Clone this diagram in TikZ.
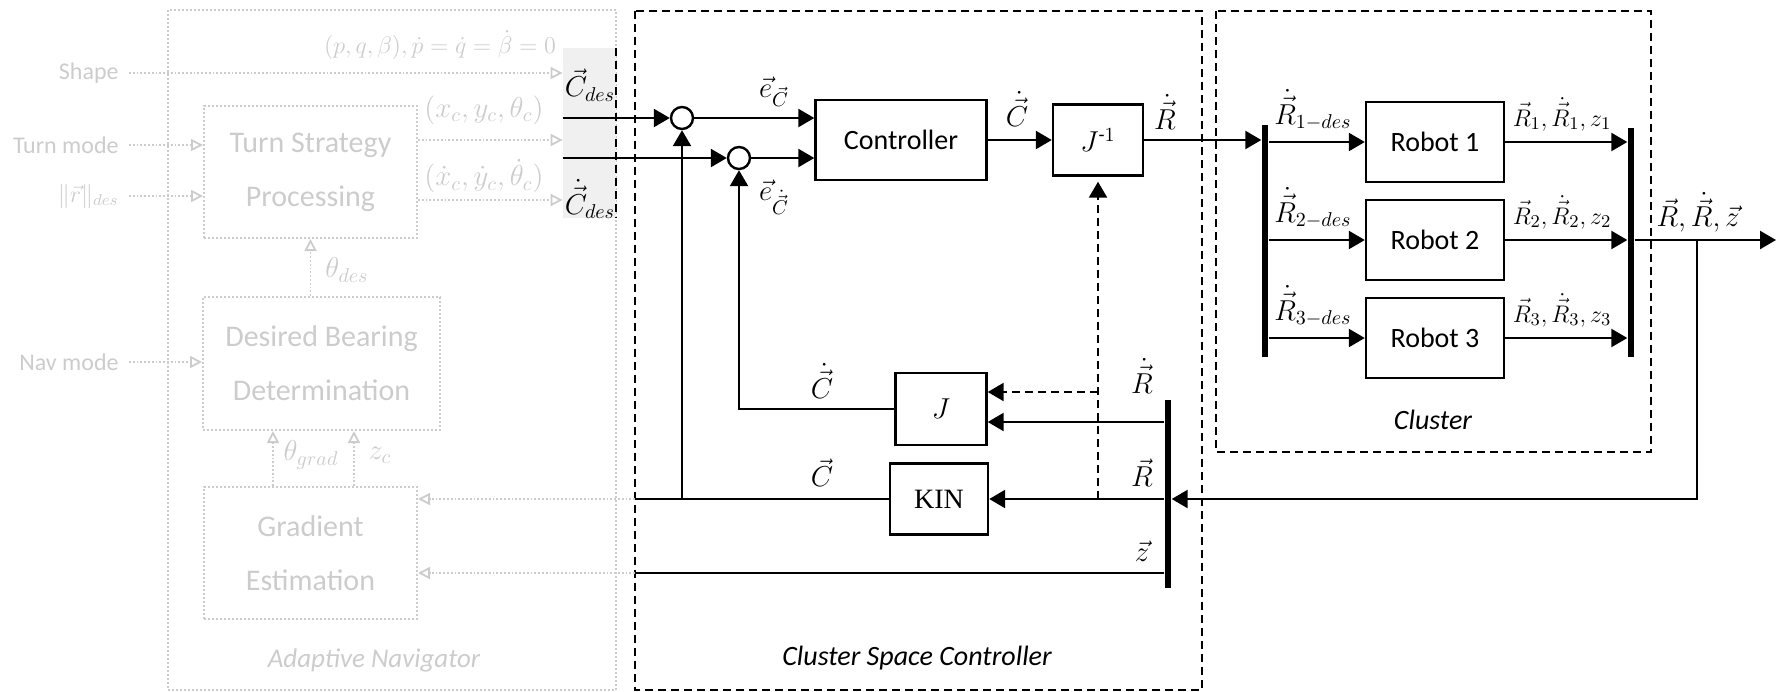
\documentclass[tikz,border=0pt]{standalone}
\usepackage{amsmath,amssymb}
\usepackage{fontspec}
\setmainfont{Carlito}
\newfontfamily\timesfont{Liberation Serif}
\usetikzlibrary{arrows.meta}
\definecolor{fadegray}{gray}{0.8}
\definecolor{desfill}{gray}{0.94}
\newcommand{\lblsize}{\fontsize{14}{16}\selectfont}
\tikzset{
  block/.style 2 args={draw, line width=1.2pt, inner sep=0pt,
    minimum width=#1, minimum height=#2},
  fadeblock/.style 2 args={draw=fadegray, densely dotted, line width=1pt,
    text=fadegray, align=center, font=\fontsize{15}{27}\selectfont,
    minimum width=#1, minimum height=#2},
  sumpt/.style={circle, draw, line width=1.2pt, minimum size=11pt, inner sep=0pt},
  bus/.style={fill=black, minimum width=3.3pt, inner sep=0pt},
  wire/.style={line width=1.2pt},
  conn/.style={wire, -{Triangle[length=8pt,width=9pt]}},  % solid arrow
  dconn/.style={conn, dash pattern=on 4pt off 2.5pt},      % dashed arrow
  groupbox/.style={line width=1pt, dash pattern=on 4pt off 2.5pt},
  fadebox/.style={draw=fadegray, densely dotted, line width=1pt},
  fadetext/.style={text=fadegray},
  fadein/.style={fadetext, anchor=east, inner sep=0pt, font=\fontsize{12}{14}\selectfont},
  fadeconn/.style={fadegray, densely dotted, line width=0.9pt,
    -{Triangle[open,length=6pt,width=6pt]}},
}

\begin{document}
\begin{tikzpicture}[x=0.5pt, y=-0.5pt, font=\lblsize]
    \useasboundingbox (0,0) rectangle (1780,691);

    % Adaptive navigator (faded)
    \draw[fadebox] (168,10) rectangle (616,690);
    \node[fadeblock={106.5pt}{66pt}] (tsp) at (310.5,172) {Turn Strategy\\Processing};
    \node[fadeblock={118.5pt}{66.5pt}] (dbd) at (321.5,363.5) {Desired Bearing\\Determination};
    \node[fadeblock={106.5pt}{66pt}] (grad) at (310.5,553) {Gradient\\Estimation};
    \node[fadetext, font=\itshape\fontsize{13.5}{16}\selectfont] (nav lbl) at (374,660) {Adaptive Navigator};

    % desired cluster state
    \node[fill=desfill, minimum width=26.5pt, minimum height=85pt, inner sep=0pt] (des) at (589.5,133) {};
    \draw[groupbox] (des.north east) -- (des.south east);
    \node (cdes lbl) at (590,85) {$\vec{C}_{des}$};
    \node (cdotdes lbl) at (590,199) {$\dot{\vec{C}}_{des}$};

    % faded inputs and outputs
    \node[fadein] (shape) at (119,73) {Shape};
    \node[fadein] (turn) at (119,145) {Turn mode};
    \node[fadein] (rnorm) at (119,196) {$\|\vec{r}\|_{des}$};
    \node[fadein] (navmode) at (119,362) {Nav mode};
    \draw[fadeconn, shorten <=5pt] (shape.east) -- (shape.east -| des.west);
    \draw[fadeconn, shorten <=5pt] (turn.east) -- (turn.east -| tsp.west);
    \draw[fadeconn, shorten <=5pt] (rnorm.east) -- (rnorm.east -| tsp.west);
    \draw[fadeconn, shorten <=5pt] (navmode.east) -- (navmode.east -| dbd.west);
    \draw[fadeconn] ([yshift=16pt]tsp.east) -- ([yshift=16pt]tsp.east -| des.west);
    \draw[fadeconn] ([yshift=-14pt]tsp.east) -- ([yshift=-14pt]tsp.east -| des.west);
    \draw[fadeconn] (tsp.south |- dbd.north) -- (tsp.south);
    \draw[fadeconn] ([xshift=-18.75pt]grad.north) -- ([xshift=-18.75pt]grad.north |- dbd.south);
    \draw[fadeconn] ([xshift=21.75pt]grad.north) -- ([xshift=21.75pt]grad.north |- dbd.south);
    \node[fadetext, font=\fontsize{13}{15}\selectfont] (pq lbl) at (440,45) {$(p,q,\beta), \dot{p}=\dot{q}=\dot{\beta}=0$};
    \node[fadetext] (xy lbl) at (484,110) {$(x_c,y_c,\theta_c)$};
    \node[fadetext] (xydot lbl) at (484,176) {$(\dot{x}_c,\dot{y}_c,\dot{\theta}_c)$};
    \node[fadetext] (thdes lbl) at (347,270) {$\theta_{des}$};
    \node[fadetext] (thgrad lbl) at (311,455) {$\theta_{grad}$};
    \node[fadetext] (zc lbl) at (380,455) {$z_c$};

    % Cluster space controller
    \draw[groupbox] (635,11) rectangle (1202,690);
    \node[font=\itshape\lblsize] (csc lbl) at (917,658) {Cluster Space Controller};
    \node[sumpt] (sum1) at (682,118) {};
    \node[sumpt] (sum2) at (739,158) {};
    \node[block={85.5pt}{40pt}] (ctrl) at (901,140) {Controller};
    \node[block={45pt}{35.5pt}] (jinv) at (1098,140) {$J^{\text{-}1}$};
    \node[block={45.5pt}{36pt}] (jmat) at (941,409) {$J$};
    \node[block={49pt}{35.5pt}, font=\timesfont\lblsize] (kin) at (939,499) {KIN};
    \node[bus, minimum height=94pt] (fbbus) at (1168,494) {};

    \draw[conn] (des.west |- sum1) -- (sum1.west);
    \draw[conn] (des.west |- sum2) -- (sum2.west);
    \draw[conn] (sum1.east) -- (sum1.east -| ctrl.west);
    \draw[conn] (sum2.east) -- (sum2.east -| ctrl.west);
    \draw[conn] (ctrl.east) -- (jinv.west);
    \node (ec lbl) at (774,92) {$\vec{e}_{\vec{C}}$};
    \node (ecdot lbl) at (774,197) {$\vec{e}_{\dot{\vec{C}}}$};
    \node (cdot lbl) at (1017,109) {$\dot{\vec{C}}$};
    \node (rdot lbl) at (1165,112) {$\dot{\vec{R}}$};

    % feedback paths
    \coordinate (rdot in) at ([yshift=-6.5pt]jmat.east);
    \coordinate (dash in) at ([yshift=8.5pt]jmat.east);
    \coordinate (ctap) at (635,499);
    \coordinate (ztap) at (635,573);
    \coordinate (dtap) at (jinv.south |- kin.east);
    \draw[conn] (fbbus.west |- kin.east) -- (kin.east);
    \draw[conn] (fbbus.west |- rdot in) -- (rdot in);
    \draw[wire] (kin.west) -- (ctap);
    \draw[wire] (fbbus.west |- ztap) -- (ztap);
    \draw[conn] (sum1 |- kin.west) -- (sum1.south);
    \draw[conn] (jmat.west) -| (sum2.south);
    \draw[dconn, shorten >=2.5pt] (dtap) -- (jinv.south);
    \draw[dconn] (dtap |- dash in) -- (dash in);
    \draw[fadeconn] (ctap) -- (ctap -| grad.east);
    \draw[fadeconn] (ztap) -- (ztap -| grad.east);
    \node (jc lbl) at (822,381) {$\dot{\vec{C}}$};
    \node (kc lbl) at (822,473) {$\vec{C}$};
    \node (fr dot lbl) at (1142,376) {$\dot{\vec{R}}$};
    \node (fr lbl) at (1142,473) {$\vec{R}$};
    \node (fz lbl) at (1142,551) {$\vec{z}$};

    % Cluster
    \draw[groupbox] (1216,11) rectangle (1651,452);
    \node[font=\itshape\lblsize] (cluster lbl) at (1433,420) {Cluster};
    \node[bus, minimum height=116pt] (split) at (1265,241) {};
    \node[bus, minimum height=114.5pt] (merge) at (1631,242.5) {};
    \draw[conn] (jinv.east) -- (jinv.east -| split.west);
    \foreach \i/\y in {1/142,2/240,3/338} {
        \node[block={69pt}{40pt}] (robot\i) at (1435,\y) {Robot \i};
        \draw[conn] (split.east |- robot\i.west) -- (robot\i.west);
        \draw[conn] (robot\i.east) -- (robot\i.east -| merge.west);
        \node (rdes\i) at (1313,\y-32) {$\dot{\vec{R}}_{\i{-}des}$};
        \node[font=\fontsize{13}{15}\selectfont] (rout\i) at (1562,\y-28) {$\vec{R}_\i, \dot{\vec{R}}_\i, z_\i$};
    }

    % output and return
    \coordinate (out) at (1776,240);
    \coordinate (tap) at (1697,240);
    \coordinate (fbin) at (1697,499);
    \draw[conn] (merge.east |- robot2.east) -- (out);
    \draw[conn] (tap) -- (fbin) -- (fbin -| fbbus.east);
    \node (out lbl) at (1698,212) {$\vec{R},\dot{\vec{R}},\vec{z}$};
\end{tikzpicture}
\end{document}
